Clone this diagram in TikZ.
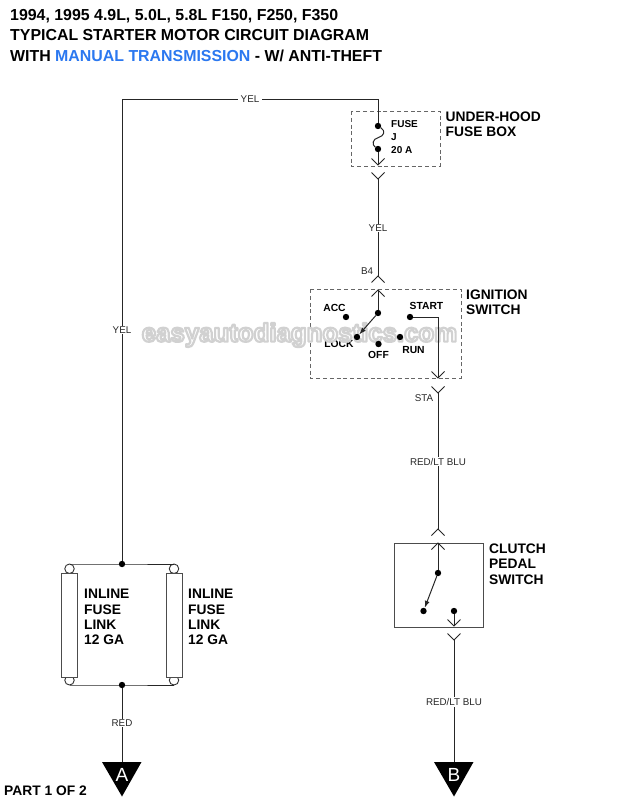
\documentclass[tikz,border=0pt]{standalone}
\usepackage{fontspec}
\usetikzlibrary{arrows.meta}
\setmainfont{Liberation Sans}
\definecolor{blueT}{HTML}{2B78F0}
\tikzset{
 wire/.style={line width=1pt,black!85},
 dashbox/.style={line width=0.9pt,black!60,dash pattern=on 4pt off 2.8pt},
 solidbox/.style={line width=1pt,black!70},
 wlabel/.style={font=\fontsize{9.8}{9.8}\selectfont,fill=white,inner xsep=2.5pt,inner ysep=1pt,text=black!85},
 plainlabel/.style={font=\fontsize{9.8}{9.8}\selectfont,inner sep=0pt,text=black!85},
 ttl/.style={font=\bfseries\fontsize{15.9}{18}\selectfont,anchor=west,inner sep=0pt},
 blab/.style={font=\bfseries\fontsize{13.8}{15.4}\selectfont,anchor=north west,inner sep=0pt,align=left},
 slab/.style={font=\bfseries\fontsize{10}{10}\selectfont,inner sep=0pt},
 swlab/.style={font=\bfseries\fontsize{10.3}{10.3}\selectfont,inner sep=0pt},
 dotn/.style={circle,fill=black,inner sep=0pt,minimum size=6.4pt},
 pin/.style={circle,draw=black!80,line width=0.9pt,fill=white,inner sep=0pt,outer sep=0pt,minimum size=9.5pt},
 link/.style={draw=black!70,line width=1pt,fill=white,minimum width=16pt,minimum height=104pt,inner sep=0pt},
 tri/.style={fill=black},
 head/.style={-{Latex[length=7pt,width=5pt]}},
}
\newcommand{\chevdown}[2]{\draw[wire] (#1-6.5,#2-6.5)--(#1,#2)--(#1+6.5,#2-6.5);}
\newcommand{\chevup}[2]{\draw[wire] (#1-6.5,#2+6.5)--(#1,#2)--(#1+6.5,#2+6.5);}
\begin{document}
\begin{tikzpicture}[x=1pt,y=-1pt]
\useasboundingbox (0,0) rectangle (618,800);
\fill[white] (0,0) rectangle (618,800);
% title
\node[ttl] (t1) at (10,16) {1994, 1995 4.9L, 5.0L, 5.8L F150, F250, F350};
\node[ttl] (t2) at (10,35.5) {TYPICAL STARTER MOTOR CIRCUIT DIAGRAM};
\node[ttl] (t3) at (10,55.5) {WITH \textcolor{blueT}{MANUAL TRANSMISSION} - W/ ANTI-THEFT};
% boxes
\draw[dashbox] (351,111) rectangle (440,166);
\draw[dashbox] (310,289) rectangle (461,378);
\draw[solidbox] (394,543) rectangle (483,627);
\node[blab] (ub) at (445.5,111.5) {UNDER-HOOD\\FUSE BOX};
\node[blab] (ig) at (466,289.5) {IGNITION\\SWITCH};
\node[blab] (cl) at (489,543.5) {CLUTCH\\PEDAL\\SWITCH};
% fuse links
\coordinate (jt) at (122,564);
\coordinate (jb) at (122,685);
\coordinate (top) at (378,99);
\coordinate (corner) at (122,99);
\node[pin] (p1) at (69.5,568.75) {};
\node[pin] (p2) at (174,568.75) {};
\node[pin] (p3) at (69.5,680.25) {};
\node[pin] (p4) at (174,680.25) {};
\node[link] (l1) at (69,625) {};
\node[link] (l2) at (174,625) {};
\draw[wire] (p1.north) -- (jt) -- (p2.north);
\draw[wire] (p3.south) -- (jb) -- (p4.south);
\node[dotn] (d1) at (jt) {};
\node[dotn] (d2) at (jb) {};
\node[blab] (il1) at (84,589) {INLINE\\FUSE\\LINK\\12 GA};
\node[blab] (il2) at (188,589) {INLINE\\FUSE\\LINK\\12 GA};
% switch labels under the watermark
\node[swlab] (lkt) at (339,343.5) {LOCK};
% watermark
\node[font=\bfseries\fontsize{25.8}{25.8}\selectfont,text=white,inner sep=0pt] (wmk) at (299.5,335) {\special{pdf:code q 1 J 1 j 0.82 0.82 0.82 RG 2.2 w 2 Tr}easyautodiagnostics.com\special{pdf:code Q}};
% YEL main wire
\draw[wire] (d1) -- (corner) -- (top);
\node[dotn] (f1) at (378,126) {};
\node[dotn] (f2) at (378,149) {};
\draw[wire] (top) -- (f1);
\draw[wire] (f1) .. controls (386,131) and (384,136) .. (378.5,137.5) .. controls (372,139) and (372,145) .. (f2);
\coordinate (c1) at (378,165);
\coordinate (c2) at (378,179);
\draw[wire] (f2) -- (c1);
\chevdown{378}{165}
\chevdown{378}{179}
\node[slab,anchor=west] (fa) at (391,124.5) {FUSE};
\node[slab,anchor=west] (fb) at (391,137.5) {J};
\node[slab,anchor=west] (fc) at (391,150) {20 A};
\coordinate (c3) at (378,276);
\coordinate (c4) at (378,290);
\draw[wire] (c2) -- (c3);
\chevup{378}{276}
\chevup{378}{290}
\node[plainlabel] (b4) at (367,271) {B4};
% ignition switch
\node[dotn] (pv) at (378,313) {};
\draw[wire] (c4) -- (pv);
\node[dotn] (acc) at (346,317) {};
\node[dotn] (st) at (410,317) {};
\node[dotn] (lk) at (357,337) {};
\node[dotn] (of) at (378.5,344) {};
\node[dotn] (rn) at (400,337) {};
\draw[wire,head] (pv) -- (lk);
\coordinate (s1) at (438,317);
\coordinate (c5) at (438,378);
\coordinate (c6) at (438,393);
\draw[wire] (st) -- (s1) -- (c5);
\chevdown{438}{378}
\chevdown{438}{393}
\node[swlab] (acct) at (334.5,308) {ACC};
\node[swlab] (stt) at (426.5,306) {START};
\node[swlab] (oft) at (378.5,354.5) {OFF};
\node[swlab] (rnt) at (413.5,350.5) {RUN};
\node[plainlabel] (sta) at (424,398) {STA};
% clutch switch
\coordinate (c7) at (438,529);
\coordinate (c8) at (438,543);
\draw[wire] (c6) -- (c7);
\chevup{438}{529}
\chevup{438}{543}
\node[dotn] (cp) at (438,573) {};
\node[dotn] (ca) at (423.5,611) {};
\node[dotn] (cb) at (454,611) {};
\draw[wire] (c8) -- (cp);
\draw[wire,head] (cp) -- (ca);
\coordinate (c9) at (454,626);
\coordinate (c10) at (454,640);
\draw[wire] (cb) -- (c9);
\chevdown{454}{626}
\chevdown{454}{640}
% triangles
\node[inner sep=0pt] (ta) at (122,762) {};
\node[inner sep=0pt] (tb) at (454,762) {};
\draw[wire] (d2) -- (ta.center);
\draw[wire] (c10) -- (tb.center);
\fill[tri] (102,762) -- (141.5,762) -- (122,796.5) -- cycle;
\fill[tri] (434,762) -- (473.5,762) -- (454,796.5) -- cycle;
\node[font=\fontsize{19}{19}\selectfont,text=white,inner sep=0pt] (la) at (122,775) {A};
\node[font=\fontsize{19}{19}\selectfont,text=white,inner sep=0pt] (lb) at (454,775) {B};
% wire labels
\node[wlabel] (y1) at (250,99) {YEL};
\node[wlabel] (y2) at (122,330) {YEL};
\node[wlabel] (y3) at (378,228) {YEL};
\node[wlabel] (r1) at (438,461.5) {RED/LT BLU};
\node[wlabel] (r2) at (454,702) {RED/LT BLU};
\node[wlabel] (r3) at (122,723) {RED};
\node[font=\bfseries\fontsize{13.8}{13.8}\selectfont,anchor=west,inner sep=0pt] (part) at (4,790.5) {PART 1 OF 2};
\end{tikzpicture}
\end{document}
